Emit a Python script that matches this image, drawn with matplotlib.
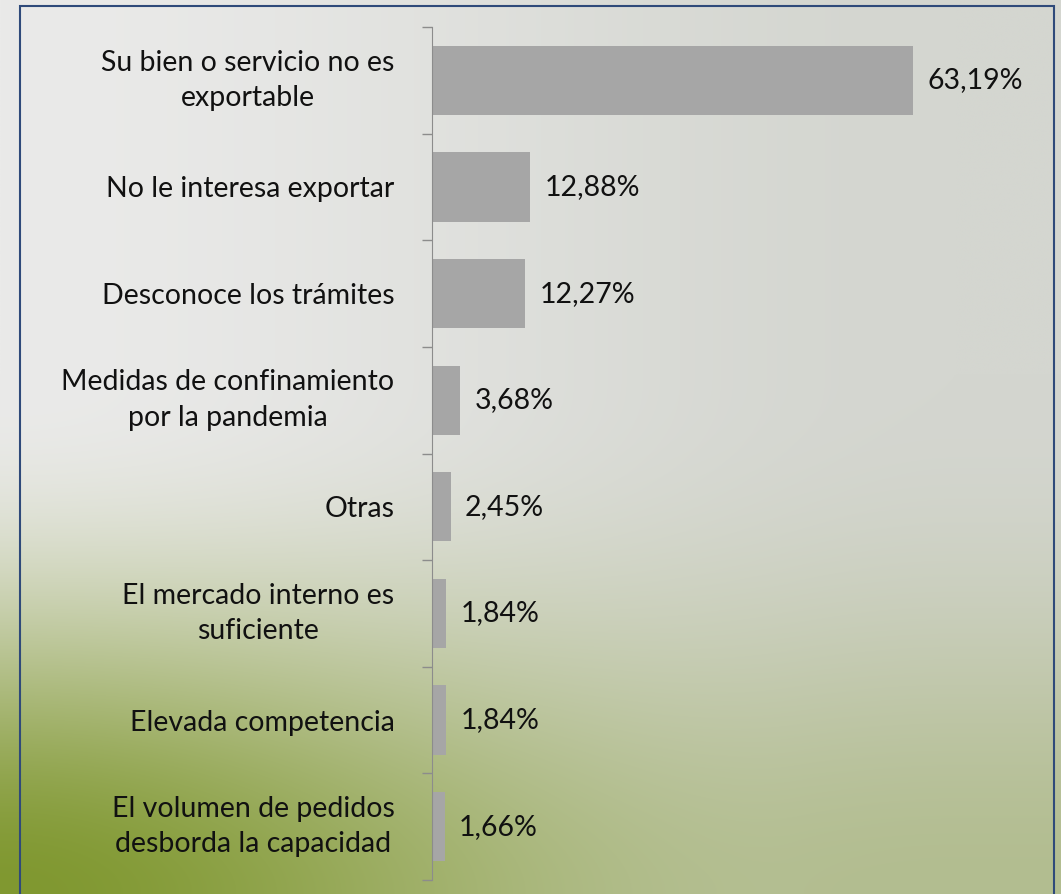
import matplotlib.pyplot as plt
import numpy as np
from matplotlib.patches import Rectangle

categories = [
    "Su bien o servicio no es\nexportable",
    "No le interesa exportar",
    "Desconoce los trámites",
    "Medidas de confinamiento\npor la pandemia",
    "Otras",
    "El mercado interno es\nsuficiente",
    "Elevada competencia",
    "El volumen de pedidos\ndesborda la capacidad",
]
values = [63.19, 12.88, 12.27, 3.68, 2.45, 1.84, 1.84, 1.66]
value_labels = ["63,19%", "12,88%", "12,27%", "3,68%", "2,45%", "1,84%", "1,84%", "1,66%"]

plt.rcParams['font.family'] = ['Lato', 'DejaVu Sans']


def smooth(t):
    t = np.clip(t, 0, 1)
    return t * t * (3 - 2 * t)


W, H = 1061, 894
fig = plt.figure(figsize=(W / 100, H / 100), dpi=100)

# background gradient: light grey on top, olive green towards bottom left
bg = fig.add_axes([0, 0, 1, 1], zorder=-10)
xx, yy = np.meshgrid(np.linspace(0, 1, 400), np.linspace(0, 1, 400))
grey_l = np.array([234, 234, 233]) / 255
grey_r = np.array([212, 214, 208]) / 255
green = np.array([128, 152, 48]) / 255
base = grey_l + (grey_r - grey_l) * smooth(xx / 0.9)[..., None]
w = smooth((yy - 0.42) / 0.58) ** 1.3 * (1 - 0.6 * smooth(xx / 0.75))
w = w[..., None]
img = base * (1 - w) + green * w
bg.imshow(img, extent=[0, 1, 0, 1], aspect='auto', origin='upper', interpolation='bilinear')
bg.set_axis_off()

# border
fig.patches.append(Rectangle((19.5 / W, -0.1), (1054 - 19.5) / W, 1.1 - 5.5 / H,
                             transform=fig.transFigure, fill=False,
                             edgecolor='#2F4A7A', linewidth=1.5, zorder=5))

ax = fig.add_axes([432 / W, 1 - 880 / H, (1041 - 432) / W, (880 - 27) / H])
ax.patch.set_alpha(0)

n = len(categories)
pos = np.arange(n)
ax.barh(pos, values, height=0.65, color='#A6A6A6')
for p, v, lab in zip(pos, values, value_labels):
    ax.text(v + 1.9, p, lab, va='center', ha='left', fontsize=20.5, color='#111111')

ax.set_xlim(0, 80)
ax.set_ylim(n - 0.5, -0.5)
ax.set_yticks(pos)
ax.set_yticklabels(categories, fontsize=20.5, color='#111111')
for t in ax.get_yticklabels():
    t.set_multialignment('center')
    t.set_linespacing(1.45)
    if '\n' in t.get_text():
        t.set_verticalalignment('center')
ax.set_yticks(np.arange(-0.5, n), minor=True)
ax.tick_params(axis='y', which='major', length=0, pad=27)
ax.tick_params(axis='y', which='minor', length=7, color='#8C8C8C', width=1)
ax.set_xticks([])
for s in ['top', 'right', 'bottom']:
    ax.spines[s].set_visible(False)
ax.spines['left'].set_color('#8C8C8C')

fig.savefig('out.png', dpi=100)
